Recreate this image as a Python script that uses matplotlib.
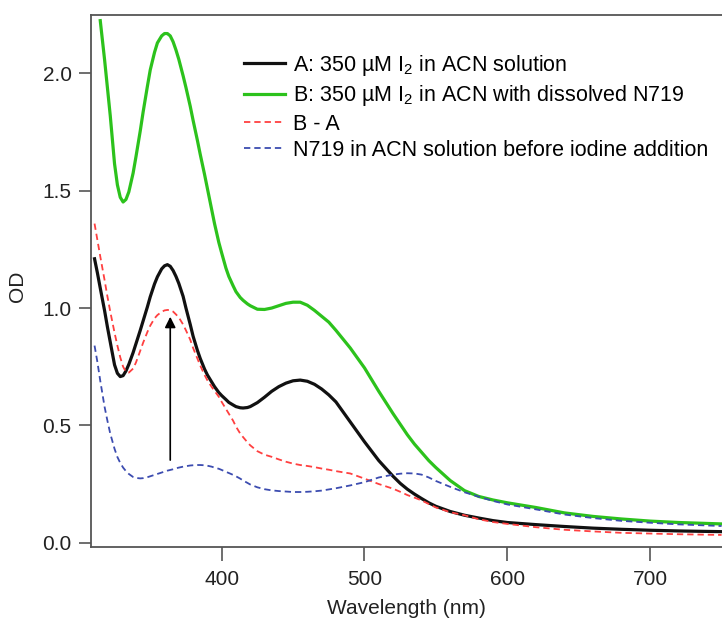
import numpy as np
import matplotlib
matplotlib.use("Agg")
import matplotlib.pyplot as plt

plt.rcParams["font.family"] = ["Liberation Sans", "DejaVu Sans"]
plt.rcParams["mathtext.fontset"] = "custom"
plt.rcParams["mathtext.rm"] = "Liberation Sans"
plt.rcParams["mathtext.it"] = "Liberation Sans:italic"
plt.rcParams["font.size"] = 15

# ------------------------------------------------------------
# Data
# ------------------------------------------------------------
wavelength = [311, 313, 315, 318, 320, 322, 325, 327, 329, 331, 333, 335, 338, 340,
              343, 345, 348, 350, 353, 355, 358, 360, 362, 364, 366, 368, 370, 373,
              375, 378, 380, 383, 385, 388, 390, 393, 395, 398, 400, 403, 405, 408,
              410, 413, 415, 418, 420, 425, 430, 435, 440, 445, 450, 455, 460, 465,
              470, 475, 480, 490, 500, 510, 520, 525, 530, 535, 540, 545, 550, 560,
              570, 580, 590, 600, 620, 640, 660, 680, 700, 720, 750]

od_a = [1.21, 1.15, 1.085, 0.99, 0.92, 0.855, 0.758, 0.722, 0.708, 0.712, 0.732, 0.76, 0.81, 0.848,
        0.905, 0.945, 1.005, 1.048, 1.103, 1.133, 1.167, 1.18, 1.185, 1.178, 1.16, 1.135, 1.105, 1.05,
        1.00, 0.93, 0.88, 0.82, 0.785, 0.74, 0.715, 0.685, 0.665, 0.64, 0.627, 0.61, 0.598, 0.587,
        0.58, 0.575, 0.574, 0.576, 0.58, 0.597, 0.62, 0.645, 0.665, 0.68, 0.69, 0.693, 0.688, 0.675,
        0.655, 0.63, 0.60, 0.515, 0.43, 0.35, 0.283, 0.253, 0.228, 0.207, 0.188, 0.17, 0.155, 0.133,
        0.117, 0.105, 0.094, 0.086, 0.077, 0.069, 0.062, 0.057, 0.053, 0.050, 0.047]

od_b = [np.nan, np.nan, 2.225, 2.06, 1.94, 1.82, 1.615, 1.525, 1.472, 1.452, 1.463, 1.495, 1.575, 1.645,
        1.755, 1.835, 1.945, 2.015, 2.09, 2.13, 2.16, 2.17, 2.17, 2.16, 2.135, 2.10, 2.06, 1.99,
        1.94, 1.86, 1.80, 1.715, 1.655, 1.57, 1.51, 1.42, 1.36, 1.28, 1.235, 1.17, 1.135, 1.095,
        1.07, 1.045, 1.033, 1.018, 1.01, 0.995, 0.994, 1.0, 1.01, 1.02, 1.025, 1.025, 1.012, 0.99,
        0.965, 0.94, 0.905, 0.83, 0.745, 0.645, 0.55, 0.505, 0.46, 0.42, 0.385, 0.35, 0.32, 0.265,
        0.222, 0.197, 0.182, 0.170, 0.150, 0.127, 0.112, 0.101, 0.092, 0.086, 0.080]

od_diff = [1.36, 1.29, 1.22, 1.12, 1.05, 0.985, 0.895, 0.84, 0.79, 0.75, 0.728, 0.725, 0.742, 0.768,
           0.818, 0.852, 0.898, 0.925, 0.956, 0.97, 0.984, 0.99, 0.992, 0.991, 0.985, 0.973, 0.96, 0.93,
           0.905, 0.865, 0.83, 0.785, 0.755, 0.715, 0.692, 0.664, 0.647, 0.622, 0.60, 0.57, 0.55, 0.52,
           0.495, 0.465, 0.45, 0.428, 0.415, 0.39, 0.375, 0.366, 0.355, 0.345, 0.337, 0.331, 0.327, 0.322,
           0.316, 0.311, 0.305, 0.295, 0.273, 0.25, 0.23, 0.217, 0.203, 0.192, 0.18, 0.165, 0.15, 0.13,
           0.117, 0.10, 0.088, 0.080, 0.066, 0.055, 0.048, 0.042, 0.039, 0.036, 0.033]

od_n719 = [0.84, 0.77, 0.69, 0.58, 0.52, 0.465, 0.40, 0.365, 0.34, 0.32, 0.305, 0.293, 0.28, 0.276,
           0.274, 0.275, 0.279, 0.283, 0.289, 0.293, 0.299, 0.303, 0.307, 0.31, 0.313, 0.317, 0.32, 0.324,
           0.326, 0.329, 0.33, 0.331, 0.331, 0.33, 0.328, 0.324, 0.32, 0.315, 0.31, 0.302, 0.297, 0.289,
           0.283, 0.273, 0.265, 0.255, 0.248, 0.236, 0.228, 0.223, 0.22, 0.218, 0.216, 0.216, 0.217, 0.219,
           0.222, 0.227, 0.232, 0.244, 0.258, 0.278, 0.29, 0.294, 0.296, 0.295, 0.29, 0.278, 0.263, 0.238,
           0.215, 0.196, 0.178, 0.163, 0.142, 0.12, 0.105, 0.093, 0.085, 0.078, 0.071]

labels = [r"A: 350 µM I$_2$ in ACN solution",
          r"B: 350 µM I$_2$ in ACN with dissolved N719",
          "B - A",
          "N719 in ACN solution before iodine addition"]

arrow_x = 364
arrow_y = (0.352, 0.963)

# ------------------------------------------------------------
# Plot
# ------------------------------------------------------------
fig = plt.figure(figsize=(7.22, 6.28), dpi=100)
ax = fig.add_axes([0.126, 0.1295, 0.874, 0.8466])

ax.plot(wavelength, od_a, color="#111111", lw=2.3, label=labels[0])
ax.plot(wavelength, od_b, color="#2cc21c", lw=2.3, label=labels[1])
ax.plot(wavelength, od_diff, color="#ff4040", lw=1.3, ls=(0, (3.5, 2.2)), label=labels[2])
ax.plot(wavelength, od_n719, color="#3c4cb0", lw=1.3, ls=(0, (3.5, 2.2)), label=labels[3])

ax.annotate("", xy=(arrow_x, arrow_y[1]), xytext=(arrow_x, arrow_y[0]),
            arrowprops=dict(arrowstyle="-|>", color="black", lw=1.2,
                            mutation_scale=16, shrinkA=0, shrinkB=0))

ax.set_xlim(308.5, 750.3)
ax.set_ylim(-0.017, 2.249)
ax.set_xticks([400, 500, 600, 700])
ax.set_yticks([0.0, 0.5, 1.0, 1.5, 2.0])
ax.yaxis.set_major_formatter(matplotlib.ticker.FormatStrFormatter("%.1f"))

for side in ["left", "bottom", "top"]:
    ax.spines[side].set_color("#555555")
    ax.spines[side].set_linewidth(1.3)
ax.spines["right"].set_visible(False)
ax.tick_params(axis="x", direction="out", length=10, width=1.2, color="#555555",
               pad=7, labelcolor="#222222")
ax.tick_params(axis="y", direction="out", length=9, width=1.2, color="#555555",
               pad=5, labelcolor="#222222")

ax.set_xlabel("Wavelength (nm)", color="#222222")
ax.set_ylabel("OD", color="#222222")
ax.xaxis.set_label_coords(0.5, -0.098)
ax.yaxis.set_label_coords(-0.101, 0.49)

ax.legend(loc="upper left", bbox_to_anchor=(0.2425, 0.929), frameon=False,
          borderpad=0, borderaxespad=0, handlelength=1.9, handletextpad=0.38,
          labelspacing=0.25, fontsize=15.5)

fig.savefig("out.png", dpi=100)
